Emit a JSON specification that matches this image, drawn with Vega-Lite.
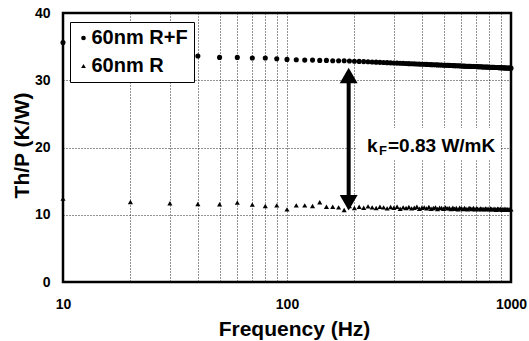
{
  "$schema": "https://vega.github.io/schema/vega-lite/v6.json",
  "width": 448,
  "height": 269,
  "autosize": {"type": "none"},
  "padding": {"left": 63, "top": 13, "right": 18, "bottom": 59},
  "background": "white",
  "config": {
    "font": "Liberation Sans",
    "view": {"stroke": "black", "strokeWidth": 2.5},
    "axis": {
      "domain": false, "ticks": false, "tickSize": 0,
      "grid": true, "gridColor": "black", "gridDash": [1, 2], "gridWidth": 1, "gridOpacity": 0.85,
      "labelFont": "Liberation Sans", "labelFontWeight": "bold", "labelFontSize": 14, "labelColor": "black",
      "titleFont": "Liberation Sans", "titleFontWeight": "bold", "titleFontSize": 21, "titleColor": "black"
    }
  },
  "layer": [
    {
      "data": {"values": [
        {"f": 10, "v": 35.6, "s": "60nm R+F"}, {"f": 20, "v": 34.4, "s": "60nm R+F"}, {"f": 30, "v": 33.9, "s": "60nm R+F"},
        {"f": 40, "v": 33.6, "s": "60nm R+F"}, {"f": 50, "v": 33.4, "s": "60nm R+F"}, {"f": 60, "v": 33.4, "s": "60nm R+F"},
        {"f": 70, "v": 33.3, "s": "60nm R+F"}, {"f": 80, "v": 33.3, "s": "60nm R+F"}, {"f": 90, "v": 33.2, "s": "60nm R+F"},
        {"f": 100, "v": 33.1, "s": "60nm R+F"}, {"f": 110, "v": 33.05, "s": "60nm R+F"}, {"f": 120, "v": 33.0, "s": "60nm R+F"},
        {"f": 130, "v": 33.0, "s": "60nm R+F"}, {"f": 140, "v": 32.95, "s": "60nm R+F"}, {"f": 150, "v": 32.95, "s": "60nm R+F"},
        {"f": 160, "v": 32.9, "s": "60nm R+F"}, {"f": 170, "v": 32.9, "s": "60nm R+F"}, {"f": 180, "v": 32.9, "s": "60nm R+F"},
        {"f": 190, "v": 32.86, "s": "60nm R+F"}, {"f": 200, "v": 32.83, "s": "60nm R+F"}, {"f": 210, "v": 32.8, "s": "60nm R+F"},
        {"f": 220, "v": 32.77, "s": "60nm R+F"}, {"f": 230, "v": 32.74, "s": "60nm R+F"}, {"f": 240, "v": 32.71, "s": "60nm R+F"},
        {"f": 250, "v": 32.69, "s": "60nm R+F"}, {"f": 260, "v": 32.66, "s": "60nm R+F"}, {"f": 270, "v": 32.64, "s": "60nm R+F"},
        {"f": 280, "v": 32.62, "s": "60nm R+F"}, {"f": 290, "v": 32.59, "s": "60nm R+F"}, {"f": 300, "v": 32.57, "s": "60nm R+F"},
        {"f": 310, "v": 32.55, "s": "60nm R+F"}, {"f": 320, "v": 32.53, "s": "60nm R+F"}, {"f": 330, "v": 32.51, "s": "60nm R+F"},
        {"f": 340, "v": 32.49, "s": "60nm R+F"}, {"f": 350, "v": 32.47, "s": "60nm R+F"}, {"f": 360, "v": 32.45, "s": "60nm R+F"},
        {"f": 370, "v": 32.44, "s": "60nm R+F"}, {"f": 380, "v": 32.42, "s": "60nm R+F"}, {"f": 390, "v": 32.4, "s": "60nm R+F"},
        {"f": 400, "v": 32.39, "s": "60nm R+F"}, {"f": 410, "v": 32.37, "s": "60nm R+F"}, {"f": 420, "v": 32.36, "s": "60nm R+F"},
        {"f": 430, "v": 32.34, "s": "60nm R+F"}, {"f": 440, "v": 32.32, "s": "60nm R+F"}, {"f": 450, "v": 32.31, "s": "60nm R+F"},
        {"f": 460, "v": 32.3, "s": "60nm R+F"}, {"f": 470, "v": 32.28, "s": "60nm R+F"}, {"f": 480, "v": 32.27, "s": "60nm R+F"},
        {"f": 490, "v": 32.26, "s": "60nm R+F"}, {"f": 500, "v": 32.24, "s": "60nm R+F"}, {"f": 510, "v": 32.23, "s": "60nm R+F"},
        {"f": 520, "v": 32.22, "s": "60nm R+F"}, {"f": 530, "v": 32.21, "s": "60nm R+F"}, {"f": 540, "v": 32.19, "s": "60nm R+F"},
        {"f": 550, "v": 32.18, "s": "60nm R+F"}, {"f": 560, "v": 32.17, "s": "60nm R+F"}, {"f": 570, "v": 32.16, "s": "60nm R+F"},
        {"f": 580, "v": 32.15, "s": "60nm R+F"}, {"f": 590, "v": 32.14, "s": "60nm R+F"}, {"f": 600, "v": 32.13, "s": "60nm R+F"},
        {"f": 610, "v": 32.12, "s": "60nm R+F"}, {"f": 620, "v": 32.1, "s": "60nm R+F"}, {"f": 630, "v": 32.09, "s": "60nm R+F"},
        {"f": 640, "v": 32.08, "s": "60nm R+F"}, {"f": 650, "v": 32.07, "s": "60nm R+F"}, {"f": 660, "v": 32.06, "s": "60nm R+F"},
        {"f": 670, "v": 32.05, "s": "60nm R+F"}, {"f": 680, "v": 32.05, "s": "60nm R+F"}, {"f": 690, "v": 32.04, "s": "60nm R+F"},
        {"f": 700, "v": 32.03, "s": "60nm R+F"}, {"f": 710, "v": 32.02, "s": "60nm R+F"}, {"f": 720, "v": 32.01, "s": "60nm R+F"},
        {"f": 730, "v": 32.0, "s": "60nm R+F"}, {"f": 740, "v": 31.99, "s": "60nm R+F"}, {"f": 750, "v": 31.98, "s": "60nm R+F"},
        {"f": 760, "v": 31.97, "s": "60nm R+F"}, {"f": 770, "v": 31.97, "s": "60nm R+F"}, {"f": 780, "v": 31.96, "s": "60nm R+F"},
        {"f": 790, "v": 31.95, "s": "60nm R+F"}, {"f": 800, "v": 31.94, "s": "60nm R+F"}, {"f": 810, "v": 31.93, "s": "60nm R+F"},
        {"f": 820, "v": 31.92, "s": "60nm R+F"}, {"f": 830, "v": 31.92, "s": "60nm R+F"}, {"f": 840, "v": 31.91, "s": "60nm R+F"},
        {"f": 850, "v": 31.9, "s": "60nm R+F"}, {"f": 860, "v": 31.89, "s": "60nm R+F"}, {"f": 870, "v": 31.89, "s": "60nm R+F"},
        {"f": 880, "v": 31.88, "s": "60nm R+F"}, {"f": 890, "v": 31.87, "s": "60nm R+F"}, {"f": 900, "v": 31.87, "s": "60nm R+F"},
        {"f": 910, "v": 31.86, "s": "60nm R+F"}, {"f": 920, "v": 31.85, "s": "60nm R+F"}, {"f": 930, "v": 31.84, "s": "60nm R+F"},
        {"f": 940, "v": 31.84, "s": "60nm R+F"}, {"f": 950, "v": 31.83, "s": "60nm R+F"}, {"f": 960, "v": 31.82, "s": "60nm R+F"},
        {"f": 970, "v": 31.82, "s": "60nm R+F"}, {"f": 980, "v": 31.81, "s": "60nm R+F"}, {"f": 990, "v": 31.8, "s": "60nm R+F"},
        {"f": 1000, "v": 31.8, "s": "60nm R+F"},
        {"f": 10, "v": 12.4, "s": "60nm R"}, {"f": 20, "v": 11.9, "s": "60nm R"}, {"f": 30, "v": 11.7, "s": "60nm R"},
        {"f": 40, "v": 11.6, "s": "60nm R"}, {"f": 50, "v": 11.55, "s": "60nm R"}, {"f": 60, "v": 11.8, "s": "60nm R"},
        {"f": 70, "v": 11.5, "s": "60nm R"}, {"f": 80, "v": 11.3, "s": "60nm R"}, {"f": 90, "v": 11.4, "s": "60nm R"},
        {"f": 100, "v": 10.8, "s": "60nm R"}, {"f": 110, "v": 11.4, "s": "60nm R"}, {"f": 120, "v": 11.4, "s": "60nm R"},
        {"f": 130, "v": 11.3, "s": "60nm R"}, {"f": 140, "v": 11.85, "s": "60nm R"}, {"f": 150, "v": 11.2, "s": "60nm R"},
        {"f": 160, "v": 11.2, "s": "60nm R"}, {"f": 170, "v": 11.1, "s": "60nm R"}, {"f": 180, "v": 10.7, "s": "60nm R"},
        {"f": 190, "v": 11.3, "s": "60nm R"}, {"f": 200, "v": 11.0, "s": "60nm R"}, {"f": 210, "v": 11.2, "s": "60nm R"},
        {"f": 220, "v": 11.05, "s": "60nm R"}, {"f": 230, "v": 11.25, "s": "60nm R"}, {"f": 240, "v": 11.1, "s": "60nm R"},
        {"f": 250, "v": 11.0, "s": "60nm R"}, {"f": 260, "v": 11.2, "s": "60nm R"}, {"f": 270, "v": 11.1, "s": "60nm R"},
        {"f": 280, "v": 10.95, "s": "60nm R"}, {"f": 290, "v": 11.15, "s": "60nm R"}, {"f": 300, "v": 11.05, "s": "60nm R"},
        {"f": 310, "v": 11.2, "s": "60nm R"}, {"f": 320, "v": 10.9, "s": "60nm R"}, {"f": 330, "v": 11.1, "s": "60nm R"},
        {"f": 340, "v": 11.0, "s": "60nm R"}, {"f": 350, "v": 11.15, "s": "60nm R"}, {"f": 360, "v": 10.95, "s": "60nm R"},
        {"f": 370, "v": 11.05, "s": "60nm R"}, {"f": 380, "v": 11.2, "s": "60nm R"}, {"f": 390, "v": 10.9, "s": "60nm R"},
        {"f": 400, "v": 11.05, "s": "60nm R"}, {"f": 410, "v": 11.1, "s": "60nm R"}, {"f": 420, "v": 10.95, "s": "60nm R"},
        {"f": 430, "v": 11.15, "s": "60nm R"}, {"f": 440, "v": 10.9, "s": "60nm R"}, {"f": 450, "v": 11.0, "s": "60nm R"},
        {"f": 460, "v": 11.1, "s": "60nm R"}, {"f": 470, "v": 10.85, "s": "60nm R"}, {"f": 480, "v": 11.05, "s": "60nm R"},
        {"f": 490, "v": 11.0, "s": "60nm R"}, {"f": 500, "v": 10.9, "s": "60nm R"}, {"f": 510, "v": 11.1, "s": "60nm R"},
        {"f": 520, "v": 10.95, "s": "60nm R"}, {"f": 530, "v": 11.0, "s": "60nm R"}, {"f": 540, "v": 10.85, "s": "60nm R"},
        {"f": 550, "v": 11.05, "s": "60nm R"}, {"f": 560, "v": 10.9, "s": "60nm R"}, {"f": 570, "v": 11.0, "s": "60nm R"},
        {"f": 580, "v": 10.8, "s": "60nm R"}, {"f": 590, "v": 11.05, "s": "60nm R"}, {"f": 600, "v": 10.95, "s": "60nm R"},
        {"f": 610, "v": 10.85, "s": "60nm R"}, {"f": 620, "v": 11.0, "s": "60nm R"}, {"f": 630, "v": 10.9, "s": "60nm R"},
        {"f": 640, "v": 10.8, "s": "60nm R"}, {"f": 650, "v": 11.0, "s": "60nm R"}, {"f": 660, "v": 10.95, "s": "60nm R"},
        {"f": 670, "v": 10.85, "s": "60nm R"}, {"f": 680, "v": 11.0, "s": "60nm R"}, {"f": 690, "v": 10.8, "s": "60nm R"},
        {"f": 700, "v": 10.95, "s": "60nm R"}, {"f": 710, "v": 10.9, "s": "60nm R"}, {"f": 720, "v": 10.8, "s": "60nm R"},
        {"f": 730, "v": 10.95, "s": "60nm R"}, {"f": 740, "v": 10.85, "s": "60nm R"}, {"f": 750, "v": 10.9, "s": "60nm R"},
        {"f": 760, "v": 10.8, "s": "60nm R"}, {"f": 770, "v": 10.95, "s": "60nm R"}, {"f": 780, "v": 10.85, "s": "60nm R"},
        {"f": 790, "v": 10.9, "s": "60nm R"}, {"f": 800, "v": 10.8, "s": "60nm R"}, {"f": 810, "v": 10.95, "s": "60nm R"},
        {"f": 820, "v": 10.85, "s": "60nm R"}, {"f": 830, "v": 10.8, "s": "60nm R"}, {"f": 840, "v": 10.9, "s": "60nm R"},
        {"f": 850, "v": 10.85, "s": "60nm R"}, {"f": 860, "v": 10.75, "s": "60nm R"}, {"f": 870, "v": 10.9, "s": "60nm R"},
        {"f": 880, "v": 10.85, "s": "60nm R"}, {"f": 890, "v": 10.8, "s": "60nm R"}, {"f": 900, "v": 10.9, "s": "60nm R"},
        {"f": 910, "v": 10.75, "s": "60nm R"}, {"f": 920, "v": 10.85, "s": "60nm R"}, {"f": 930, "v": 10.8, "s": "60nm R"},
        {"f": 940, "v": 10.9, "s": "60nm R"}, {"f": 950, "v": 10.75, "s": "60nm R"}, {"f": 960, "v": 10.85, "s": "60nm R"},
        {"f": 970, "v": 10.8, "s": "60nm R"}, {"f": 980, "v": 10.75, "s": "60nm R"}, {"f": 990, "v": 10.85, "s": "60nm R"},
        {"f": 1000, "v": 10.8, "s": "60nm R"}
      ]},
      "mark": {"type": "point", "filled": true, "color": "black", "size": 26, "opacity": 1},
      "encoding": {
        "x": {
          "field": "f", "type": "quantitative",
          "scale": {"type": "log", "domain": [10, 1000], "nice": false},
          "axis": {
            "values": [10, 20, 30, 40, 50, 60, 70, 80, 90, 100, 200, 300, 400, 500, 600, 700, 800, 900, 1000],
            "format": "d",
            "labelExpr": "datum.value == 10 || datum.value == 100 || datum.value == 1000 ? datum.label : ''",
            "labelOverlap": false, "labelFlush": false, "labelPadding": 15,
            "title": "Frequency (Hz)", "titleX": 231, "titleY": 53, "titleBaseline": "alphabetic"
          }
        },
        "y": {
          "field": "v", "type": "quantitative",
          "scale": {"domain": [0, 40], "nice": false},
          "axis": {
            "values": [0, 10, 20, 30, 40],
            "labelPadding": 13,
            "title": "Th/P (K/W)", "titleX": -41, "titleY": 132, "titleBaseline": "middle", "titleAngle": -90
          }
        },
        "shape": {
          "field": "s", "type": "nominal",
          "scale": {"domain": ["60nm R+F", "60nm R"], "range": ["circle", "triangle-up"]},
          "legend": {
            "title": null, "orient": "none", "legendX": 7, "legendY": 9,
            "fillColor": "white", "strokeColor": "black", "padding": 6,
            "labelFont": "Liberation Sans", "labelFontWeight": "bold", "labelFontSize": 20, "labelColor": "black",
            "symbolSize": 22, "symbolFillColor": "black", "symbolStrokeColor": "black",
            "symbolOffset": -2.5, "labelOffset": -2, "rowPadding": 8,
            "encode": {"legend": {"update": {"strokeWidth": {"value": 2}}}}
          }
        }
      }
    },
    {
      "data": {"values": [{"f1": 205, "f2": 893, "v1": 18.1, "v2": 22.9}]},
      "mark": {"type": "rect", "fill": "white"},
      "encoding": {
        "x": {"field": "f1", "type": "quantitative", "scale": {"type": "log", "domain": [10, 1000], "nice": false}},
        "x2": {"field": "f2"},
        "y": {"field": "v1", "type": "quantitative", "scale": {"domain": [0, 40], "nice": false}},
        "y2": {"field": "v2"}
      }
    },
    {
      "data": {"values": [
        {"t": "k", "f": 227.5, "v": 19.33},
        {"t": "=0.83 W/mK", "f": 282.5, "v": 19.33}
      ]},
      "mark": {"type": "text", "align": "left", "baseline": "alphabetic", "font": "Liberation Sans", "fontWeight": "bold", "fontSize": 19, "color": "black"},
      "encoding": {
        "text": {"field": "t"},
        "x": {"field": "f", "type": "quantitative", "scale": {"type": "log", "domain": [10, 1000], "nice": false}},
        "y": {"field": "v", "type": "quantitative", "scale": {"domain": [0, 40], "nice": false}}
      }
    },
    {
      "data": {"values": [{"t": "F", "f": 257.5, "v": 18.88}]},
      "mark": {"type": "text", "align": "left", "baseline": "alphabetic", "font": "Liberation Sans", "fontWeight": "bold", "fontSize": 13, "color": "black"},
      "encoding": {
        "text": {"field": "t"},
        "x": {"field": "f", "type": "quantitative", "scale": {"type": "log", "domain": [10, 1000], "nice": false}},
        "y": {"field": "v", "type": "quantitative", "scale": {"domain": [0, 40], "nice": false}}
      }
    },
    {
      "data": {"values": [{"f": 188.5, "v1": 31.0, "v2": 11.6}]},
      "mark": {"type": "rule", "color": "black", "strokeWidth": 4},
      "encoding": {
        "x": {"field": "f", "type": "quantitative", "scale": {"type": "log", "domain": [10, 1000], "nice": false}},
        "y": {"field": "v1", "type": "quantitative", "scale": {"domain": [0, 40], "nice": false}},
        "y2": {"field": "v2"}
      }
    },
    {
      "data": {"values": [{"f": 188.5, "v": 30.72}]},
      "mark": {"type": "point", "shape": "triangle-up", "filled": true, "color": "black", "size": 320, "opacity": 1},
      "encoding": {
        "x": {"field": "f", "type": "quantitative", "scale": {"type": "log", "domain": [10, 1000], "nice": false}},
        "y": {"field": "v", "type": "quantitative", "scale": {"domain": [0, 40], "nice": false}}
      }
    },
    {
      "data": {"values": [{"f": 188.5, "v": 11.8}]},
      "mark": {"type": "point", "shape": "triangle-down", "filled": true, "color": "black", "size": 320, "opacity": 1},
      "encoding": {
        "x": {"field": "f", "type": "quantitative", "scale": {"type": "log", "domain": [10, 1000], "nice": false}},
        "y": {"field": "v", "type": "quantitative", "scale": {"domain": [0, 40], "nice": false}}
      }
    }
  ]
}
